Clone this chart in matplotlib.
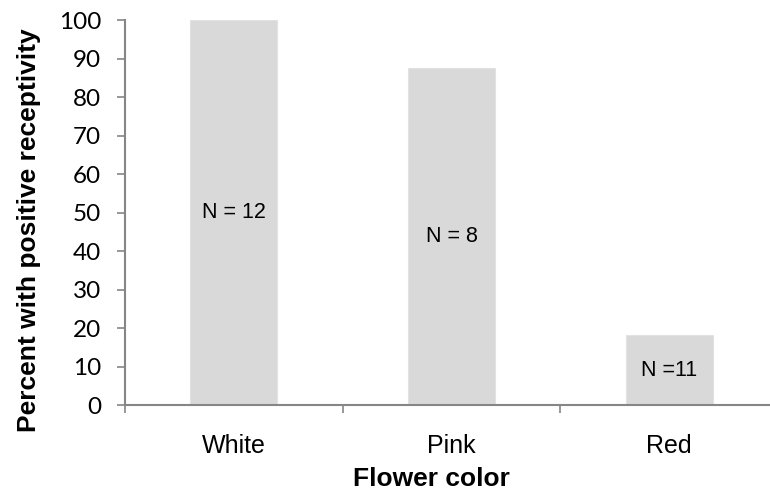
import matplotlib.pyplot as plt
import numpy as np

# 数据
colors_cat = ['White', 'Pink', 'Red']
percent = [100, 87.5, 18.2]
n_labels = ['N = 12', 'N = 8', 'N =11']
y_ticks = [0, 10, 20, 30, 40, 50, 60, 70, 80, 90, 100]

fig = plt.figure(figsize=(7.7, 4.93), dpi=100)
ax = fig.add_axes([0.1623, 0.1779, 0.848, 0.7815])

x = np.arange(len(colors_cat))
ax.bar(x, percent, width=0.4, color='#D9D9D9', edgecolor='#E2E2E2', linewidth=0.8, zorder=2)

for xi, val, lab in zip(x, percent, n_labels):
    ax.text(xi, val / 2, lab, ha='center', va='center', fontsize=15.5,
            family='Liberation Sans', color='black', zorder=3)

ax.set_xlim(-0.5, 2.5)
ax.set_ylim(0, 100)

# 坐标轴样式
axis_col = '#868686'
for s in ['top', 'right']:
    ax.spines[s].set_visible(False)
for s in ['left', 'bottom']:
    ax.spines[s].set_color(axis_col)
    ax.spines[s].set_linewidth(1.5)

ax.set_yticks(y_ticks)
ax.set_yticklabels([str(v) for v in y_ticks], family='Lato', fontsize=17.5)
ax.tick_params(axis='y', length=6, width=1.2, color=axis_col, pad=11)

ax.set_xticks(x)
ax.set_xticklabels(colors_cat, family='Liberation Sans', fontsize=18)
ax.tick_params(axis='x', which='major', length=0, pad=21)
ax.set_xticks([-0.5, 0.5, 1.5, 2.5], minor=True)
ax.tick_params(axis='x', which='minor', length=6, width=1.2, color=axis_col)

ax.set_xlabel('Flower color', family='Liberation Sans', fontsize=19, fontweight='bold')
ax.xaxis.set_label_coords(0.4686, -0.16)
ax.xaxis.label.set_va('top')
ax.set_ylabel('Percent with positive receptivity', family='Liberation Sans',
              fontsize=19, fontweight='bold')
ax.yaxis.set_label_coords(-0.129, 0.4537)

fig.savefig('out.png', dpi=100)
